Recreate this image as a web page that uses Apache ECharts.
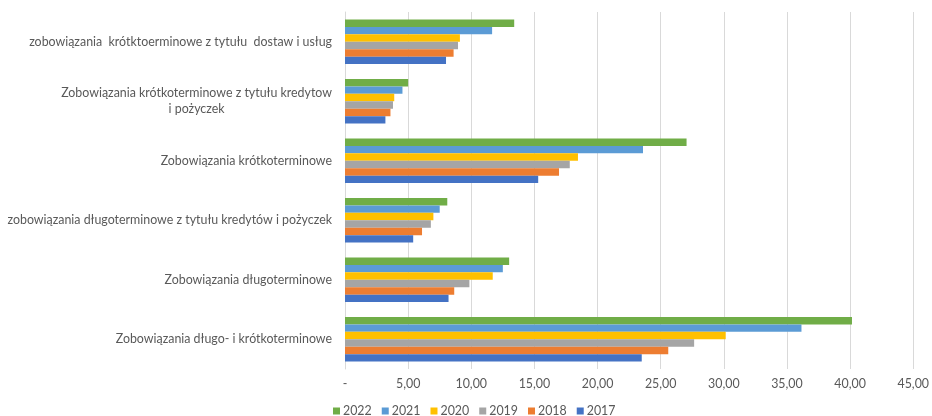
<!DOCTYPE html>
<html>
<head>
<meta charset="utf-8">
<script src="https://cdn.jsdelivr.net/npm/echarts@6/dist/echarts.min.js"></script>
<style>
  html, body { margin: 0; padding: 0; background: #ffffff; }
  #chart { width: 932px; height: 416px; }
</style>
</head>
<body>
<div id="chart"></div>
<script>
// Categories listed bottom to top (category axis starts at the bottom)
const categories = [
  'Zobowiązania długo- i krótkoterminowe',
  'Zobowiązania długoterminowe',
  'zobowiązania długoterminowe z tytułu kredytów i pożyczek',
  'Zobowiązania krótkoterminowe',
  'Zobowiązania krótkoterminowe z tytułu kredytow\ni pożyczek',
  'zobowiązania  krótktoerminowe z tytułu  dostaw i usług'
];

// Years in legend order (newest first; first series sits on top of each group)
const years = ['2022', '2021', '2020', '2019', '2018', '2017'];

// Values per year, same order as categories
const values2022 = [40.15, 13.0, 8.1, 27.05, 5.0, 13.4];
const values2021 = [36.15, 12.5, 7.5, 23.6, 4.55, 11.65];
const values2020 = [30.15, 11.7, 7.0, 18.45, 3.9, 9.1];
const values2019 = [27.65, 9.85, 6.8, 17.8, 3.8, 8.95];
const values2018 = [25.6, 8.65, 6.1, 16.95, 3.6, 8.6];
const values2017 = [23.5, 8.2, 5.4, 15.3, 3.2, 8.0];

const xTicks = { min: 0, max: 45, step: 5 };

const seriesValues = [values2022, values2021, values2020, values2019, values2018, values2017];
const colors = ['#70AD47', '#5B9BD5', '#FFC000', '#A5A5A5', '#ED7D31', '#4472C4'];

const font = 'Lato, "Open Sans", sans-serif';
const labelSize = 12.4;

const chart = echarts.init(document.getElementById('chart'), null, { renderer: 'canvas' });

chart.setOption({
  animation: false,
  backgroundColor: '#ffffff',
  grid: { left: 345, right: 16, top: 12, bottom: 47, containLabel: false },
  legend: {
    data: years,
    left: 328,
    top: 400,
    itemWidth: 7,
    itemHeight: 7,
    itemGap: 10,
    icon: 'rect',
    textStyle: { color: '#595959', fontSize: labelSize, fontFamily: font, padding: [0, 0, 0, -2] }
  },
  xAxis: {
    type: 'value',
    min: xTicks.min,
    max: xTicks.max,
    interval: xTicks.step,
    axisLine: { show: false },
    axisTick: { show: false },
    splitLine: { show: true, lineStyle: { color: '#D9D9D9', width: 1 } },
    axisLabel: {
      color: '#595959',
      fontSize: labelSize,
      fontFamily: font,
      margin: 9,
      formatter: v => v === 0 ? '-' : v.toFixed(2).replace('.', ',')
    }
  },
  yAxis: {
    type: 'category',
    data: categories,
    axisLine: { show: true, lineStyle: { color: '#D9D9D9' } },
    axisTick: { show: false },
    axisLabel: {
      margin: 13,
      color: '#595959',
      fontSize: labelSize,
      fontFamily: font,
      lineHeight: 16,
      formatter: v => v.split('\n').map(s => '{c|' + s + '}').join('\n'),
      rich: { c: { align: 'center', color: '#595959', fontSize: labelSize, fontFamily: font, lineHeight: 16 } }
    }
  },
  series: years.map((y, i) => ({
    name: y,
    type: 'bar',
    data: seriesValues[i],
    barGap: '0%',
    barCategoryGap: '25%',
    itemStyle: { color: colors[i] }
  }))
});
</script>
</body>
</html>
